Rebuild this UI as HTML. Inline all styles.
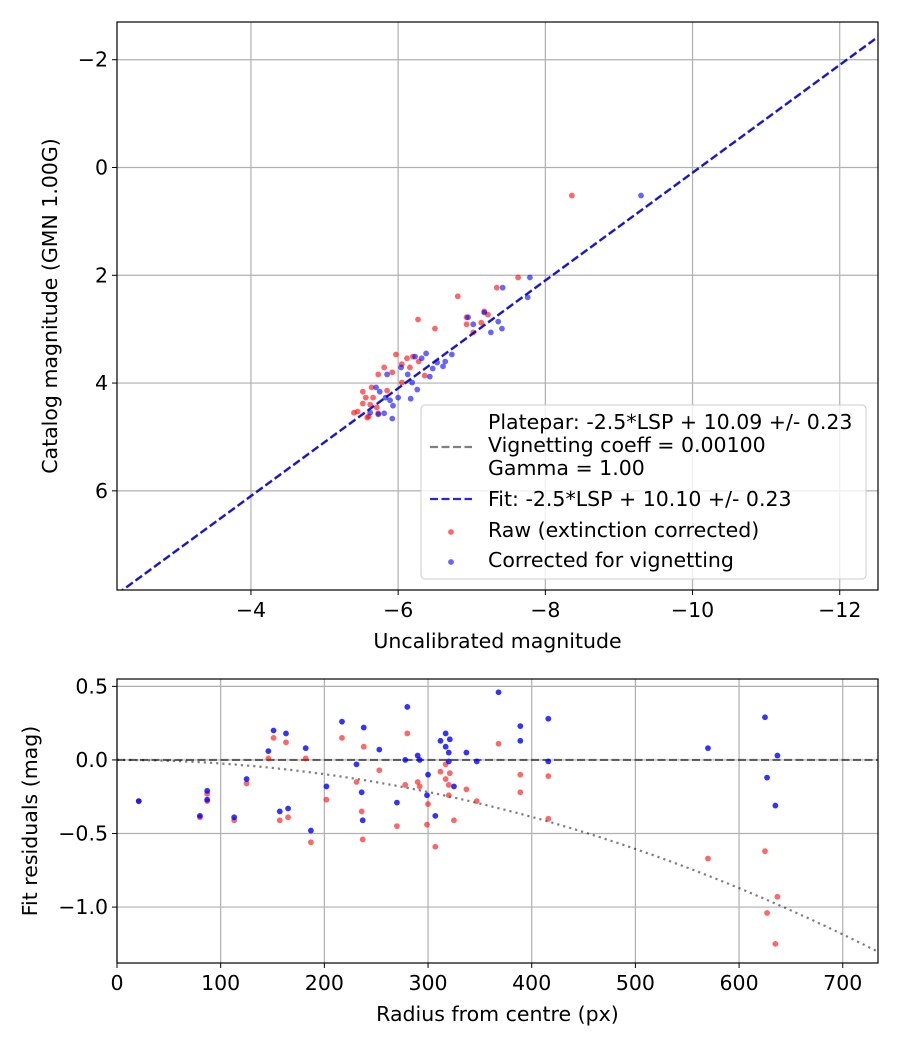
<!DOCTYPE html>
<html><head><meta charset="utf-8"><style>
body{margin:0;background:#fff;}
svg{display:block;font-family:"DejaVu Sans","Liberation Sans",sans-serif;}
</style></head><body>
<svg id="fig" width="900" height="1050" viewBox="0 0 900 1050">
<rect width="900" height="1050" fill="#fff"/>
<g id="topPlot"></g>
<g id="botPlot"></g>
</svg>
<script>
// ---- Top chart data ----
const rawUncal = [-7.63,-7.34,-6.81,-6.27,-6.50,-6.93,-6.93,-7.17,-7.22,-7.13,-7.02,-5.97,-6.12,-6.20,-6.05,-6.16,-6.28,-5.81,-5.92,-5.73,-6.36,-6.05,-5.64,-5.85,-5.52,-5.56,-5.66,-5.52,-5.62,-5.71,-5.40,-5.58,-5.73,-8.36,-5.45,-5.60];
const rawCat   = [2.04,2.23,2.39,2.82,2.99,2.78,2.91,2.67,2.73,2.88,3.06,3.47,3.54,3.51,3.65,3.71,3.60,3.71,3.80,3.84,3.86,3.99,4.08,4.14,4.16,4.27,4.27,4.38,4.40,4.45,4.55,4.64,4.56,0.52,4.53,4.62];
const corUncal = [-7.79,-7.42,-7.76,-6.95,-7.02,-7.17,-7.36,-7.26,-7.41,-6.38,-6.23,-6.32,-6.53,-6.64,-6.73,-6.04,-6.13,-6.43,-6.47,-6.61,-5.85,-6.19,-6.26,-5.70,-5.75,-6.17,-6.00,-5.83,-5.93,-5.89,-5.62,-5.73,-5.81,-5.92,-9.30];
const corCat   = [2.04,2.23,2.41,2.78,2.91,2.69,2.86,3.06,2.99,3.45,3.51,3.54,3.62,3.60,3.47,3.71,3.84,3.88,3.73,3.69,3.84,3.99,4.12,4.08,4.16,4.29,4.27,4.27,4.42,4.32,4.55,4.58,4.56,4.66,0.52];
const topXTicks = [-4,-6,-8,-10,-12];
const topYTicks = [-2,0,2,4,6];
const fitOffset = 10.10, plateOffset = 10.09;
// ---- Bottom chart data ----
const radius   = [21,87,87,80,113,125,146,151,163,182,157,165,187,202,217,238,231,236,237,253,270,280,278,290,292,300,299,307,312,317,321,317,320,320,325,337,347,368,389,389,416,416,570,625,627,635,637];
const resRaw   = [-0.28,-0.23,-0.28,-0.39,-0.41,-0.16,0.01,0.15,0.12,0.01,-0.41,-0.39,-0.56,-0.27,0.15,0.09,-0.15,-0.35,-0.54,-0.07,-0.45,0.18,-0.17,-0.15,-0.18,-0.30,-0.44,-0.59,-0.08,-0.03,-0.09,-0.13,-0.17,-0.24,-0.41,-0.20,-0.28,0.11,-0.10,-0.22,-0.11,-0.40,-0.67,-0.62,-1.04,-1.25,-0.93];
const resCor   = [-0.28,-0.21,-0.27,-0.38,-0.39,-0.13,0.06,0.20,0.18,0.08,-0.35,-0.33,-0.48,-0.18,0.26,0.22,-0.03,-0.22,-0.41,0.07,-0.29,0.36,0.00,0.03,0.00,-0.10,-0.24,-0.38,0.13,0.18,0.14,0.09,0.05,-0.01,-0.18,0.05,-0.01,0.46,0.23,0.13,0.28,-0.01,0.08,0.29,-0.12,-0.31,0.03];
const botXTicks = [0,100,200,300,400,500,600,700];
const botYTicks = [0.5,0.0,-0.5,-1.0];
const vigK = 2.42e-6;

const FS = 20.5;
const NS="http://www.w3.org/2000/svg";
function mk(parent,tag,attrs,text){const e=document.createElementNS(NS,tag);for(const k in attrs)e.setAttribute(k,attrs[k]);if(text!==undefined)e.textContent=text;parent.appendChild(e);return e;}

// ---- TOP ----
const T={l:117,r:878,t:22,b:590,x0:-2.18,x1:-12.52,y0:-2.70,y1:7.84};
const tx=v=>T.l+(v-T.x0)/(T.x1-T.x0)*(T.r-T.l);
const ty=v=>T.t+(v-T.y0)/(T.y1-T.y0)*(T.b-T.t);
const topG=document.getElementById('topPlot');
const tclip=mk(topG,'clipPath',{id:'tclip'});mk(tclip,'rect',{x:T.l,y:T.t,width:T.r-T.l,height:T.b-T.t});
topXTicks.forEach(v=>{
  const g=mk(topG,'line',{x1:tx(v),x2:tx(v),y1:T.t,y2:T.b,stroke:'#b0b0b0','stroke-width':1.2});
  
  
  mk(topG,'line',{x1:tx(v),x2:tx(v),y1:T.b,y2:T.b+5,stroke:'#000'});
  const t=mk(topG,'text',{x:tx(v),y:T.b+27,'text-anchor':'middle','font-size':FS},'\u2212'+Math.abs(v));
  
  
});
topYTicks.forEach(v=>{
  const g=mk(topG,'line',{x1:T.l,x2:T.r,y1:ty(v),y2:ty(v),stroke:'#b0b0b0','stroke-width':1.2});
  
  
  mk(topG,'line',{x1:T.l-5,x2:T.l,y1:ty(v),y2:ty(v),stroke:'#000'});
  const t=mk(topG,'text',{x:T.l-9,y:ty(v)+7,'text-anchor':'end','font-size':FS},(v<0?'\u2212':'')+Math.abs(v));
  
  
});
const tg=mk(topG,'g',{'clip-path':'url(#tclip)'});
rawUncal.forEach((x,i)=>{const c=mk(tg,'circle',{cx:tx(x),cy:ty(rawCat[i]),r:2.9,fill:'rgba(255,0,0,0.6)'});
  
  });
corUncal.forEach((x,i)=>{const c=mk(tg,'circle',{cx:tx(x),cy:ty(corCat[i]),r:2.9,fill:'rgba(0,0,255,0.6)'});
  
  });
const pl=mk(tg,'line',{x1:tx(T.x0),y1:ty(T.x0+plateOffset),x2:tx(T.x1),y2:ty(T.x1+plateOffset),stroke:'rgba(0,0,0,0.5)','stroke-width':2.2,'stroke-dasharray':'8,3.5'});


const fl=mk(tg,'line',{x1:tx(T.x0),y1:ty(T.x0+fitOffset),x2:tx(T.x1),y2:ty(T.x1+fitOffset),stroke:'rgba(0,0,230,0.85)','stroke-width':2.2,'stroke-dasharray':'8,3.5'});


mk(topG,'rect',{x:T.l,y:T.t,width:T.r-T.l,height:T.b-T.t,fill:'none',stroke:'#000','stroke-width':1.2});
const t1=mk(topG,'text',{x:(T.l+T.r)/2,y:648,'text-anchor':'middle','font-size':FS},'Uncalibrated magnitude');


const t2=mk(topG,'text',{x:57,y:306,'text-anchor':'middle','font-size':FS,transform:'rotate(-90 57 306)'},'Catalog magnitude (GMN 1.00G)');


// legend
const lg=mk(topG,'g',{});


mk(lg,'rect',{x:421,y:405,width:445,height:174,rx:4,fill:'rgba(255,255,255,0.8)',stroke:'#ccc'});
mk(lg,'line',{x1:430,x2:472,y1:447,y2:447,stroke:'#808080','stroke-width':2.2,'stroke-dasharray':'8,3.5'});
mk(lg,'line',{x1:430,x2:472,y1:499,y2:499,stroke:'rgba(0,0,230,0.85)','stroke-width':2.2,'stroke-dasharray':'8,3.5'});
mk(lg,'circle',{cx:451,cy:532,r:2.9,fill:'rgba(255,0,0,0.6)'});
mk(lg,'circle',{cx:451,cy:562,r:2.9,fill:'rgba(0,0,255,0.6)'});
[['Platepar: -2.5*LSP + 10.09 +/- 0.23',429],['Vignetting coeff = 0.00100',452],['Gamma = 1.00',475],['Fit: -2.5*LSP + 10.10 +/- 0.23',506],['Raw (extinction corrected)',537],['Corrected for vignetting',567]].forEach(([s,y])=>{
  const e=mk(lg,'text',{x:488,y:y,'font-size':FS},s);
  
  
});

// ---- BOTTOM ----
const B={l:117,r:878,t:679,b:963,x0:0,x1:734,y0:0.55,y1:-1.38};
const bx=v=>B.l+(v-B.x0)/(B.x1-B.x0)*(B.r-B.l);
const by=v=>B.t+(v-B.y0)/(B.y1-B.y0)*(B.b-B.t);
const botG=document.getElementById('botPlot');
const bclip=mk(botG,'clipPath',{id:'bclip'});mk(bclip,'rect',{x:B.l,y:B.t,width:B.r-B.l,height:B.b-B.t});
botXTicks.forEach(v=>{
  const g=mk(botG,'line',{x1:bx(v),x2:bx(v),y1:B.t,y2:B.b,stroke:'#b0b0b0','stroke-width':1.2});
  
  
  mk(botG,'line',{x1:bx(v),x2:bx(v),y1:B.b,y2:B.b+5,stroke:'#000'});
  const t=mk(botG,'text',{x:bx(v),y:B.b+27,'text-anchor':'middle','font-size':FS},String(v));
  
  
});
botYTicks.forEach(v=>{
  const g=mk(botG,'line',{x1:B.l,x2:B.r,y1:by(v),y2:by(v),stroke:'#b0b0b0','stroke-width':1.2});
  
  
  mk(botG,'line',{x1:B.l-5,x2:B.l,y1:by(v),y2:by(v),stroke:'#000'});
  const t=mk(botG,'text',{x:B.l-9,y:by(v)+7,'text-anchor':'end','font-size':FS},(v<0?'\u2212':'')+Math.abs(v).toFixed(1));
  
  
});
const bg=mk(botG,'g',{'clip-path':'url(#bclip)'});
const zl=mk(bg,'line',{x1:B.l,x2:B.r,y1:by(0),y2:by(0),stroke:'rgba(0,0,0,0.55)','stroke-width':2.2,'stroke-dasharray':'8,3.5'});


let d='';for(let r=0;r<=734;r+=4){d+=(r?'L':'M')+bx(r).toFixed(1)+','+by(-vigK*r*r).toFixed(1);}
const vc=mk(bg,'path',{d:d,fill:'none',stroke:'rgba(0,0,0,0.5)','stroke-width':2.2,'stroke-dasharray':'2.2,4'});


radius.forEach((r,i)=>{const c=mk(bg,'circle',{cx:bx(r),cy:by(resRaw[i]),r:2.9,fill:'rgba(255,0,0,0.6)'});
  
  });
radius.forEach((r,i)=>{const c=mk(bg,'circle',{cx:bx(r),cy:by(resCor[i]),r:2.9,fill:'rgba(0,0,255,0.8)'});
  
  });
mk(botG,'rect',{x:B.l,y:B.t,width:B.r-B.l,height:B.b-B.t,fill:'none',stroke:'#000','stroke-width':1.2});
const t3=mk(botG,'text',{x:(B.l+B.r)/2,y:1021,'text-anchor':'middle','font-size':FS},'Radius from centre (px)');


const t4=mk(botG,'text',{x:37,y:821,'text-anchor':'middle','font-size':FS,transform:'rotate(-90 37 821)'},'Fit residuals (mag)');


</script>
</body></html>
